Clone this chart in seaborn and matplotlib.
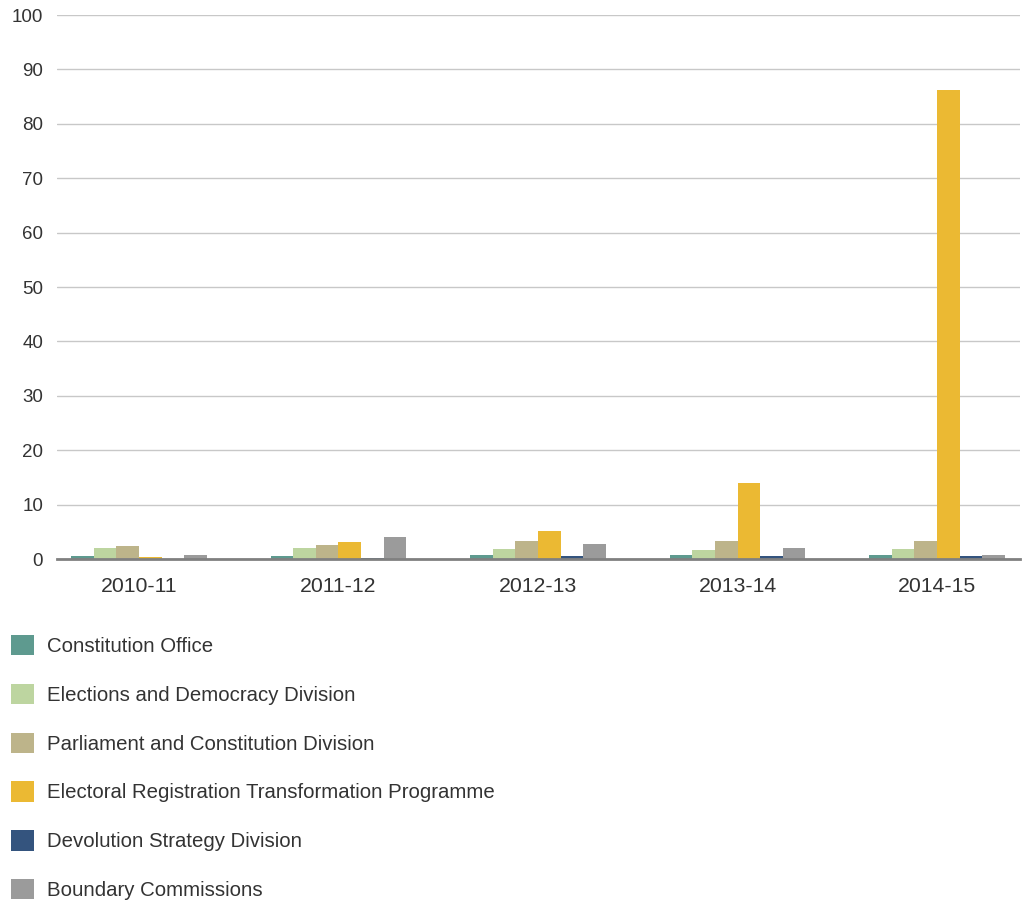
import matplotlib
matplotlib.use("Agg")
import matplotlib.pyplot as plt
import seaborn as sns
import pandas as pd
from matplotlib.ticker import FixedLocator, MultipleLocator

years = ["2010-11", "2011-12", "2012-13", "2013-14", "2014-15"]
series = [
    "Constitution Office",
    "Elections and Democracy Division",
    "Parliament and Constitution Division",
    "Electoral Registration Transformation Programme",
    "Devolution Strategy Division",
    "Boundary Commissions",
]
constitution_office = [0.5, 0.5, 0.7, 0.7, 0.7]
elections_democracy = [2.1, 2.0, 1.8, 1.6, 1.8]
parliament_constitution = [2.3, 2.5, 3.4, 3.3, 3.3]
electoral_registration = [0.3, 3.1, 5.1, 13.9, 86.2]
devolution_strategy = [0.05, 0.1, 0.5, 0.5, 0.5]
boundary_commissions = [0.7, 4.0, 2.7, 2.1, 0.7]
colors = ["#5e9a8f", "#bdd5a0", "#bdb48a", "#ebb933", "#34547e", "#9b9b9b"]

values = [constitution_office, elections_democracy, parliament_constitution,
          electoral_registration, devolution_strategy, boundary_commissions]
rows = []
for s, vals in zip(series, values):
    for y, v in zip(years, vals):
        rows.append({"year": y, "series": s, "value": v})
df = pd.DataFrame(rows)

sns.set_theme(style="white")
plt.rcParams["font.family"] = ["Liberation Sans", "DejaVu Sans"]
txt = "#333333"

fig = plt.figure(figsize=(10.24, 9.01), dpi=100)
ax = fig.add_axes([57/1024, 1-559/901, (1020-57)/1024, (559-15)/901])

sns.barplot(data=df, x="year", y="value", hue="series", hue_order=series,
            order=years, palette=colors, width=0.68, gap=0, ax=ax,
            saturation=1, legend=True, linewidth=0, edgecolor="none")

ax.set_xlim(-0.411, 4.416)
ax.set_ylim(0, 100)
ax.yaxis.set_major_locator(MultipleLocator(10))
ax.grid(axis="y", color="#c8c8c8", linewidth=1)
ax.set_axisbelow(True)
for s in ["left", "right", "top"]:
    ax.spines[s].set_visible(False)
ax.spines["bottom"].set_color("#808080")
ax.spines["bottom"].set_linewidth(2)
ax.spines["bottom"].set_zorder(5)
ax.set_xlabel("")
ax.set_ylabel("")
ax.tick_params(axis="y", length=0, pad=10, labelsize=13.5, labelcolor=txt)
ax.tick_params(axis="x", which="major", length=0, pad=13, labelsize=15.3, labelcolor=txt)
ax.xaxis.set_minor_locator(FixedLocator([-0.411, 0.5, 1.5, 2.5, 3.5, 4.416]))
ax.tick_params(axis="x", which="minor", length=9, width=1.5, color="#444444", direction="out")

handles, labels = ax.get_legend_handles_labels()
ax.get_legend().remove()
fig.legend(handles, labels, loc="upper left", bbox_to_anchor=(11/1024, 1-635/901),
           frameon=False, fontsize=14.7, handlelength=1.15, handleheight=1.15,
           labelspacing=1.36, handletextpad=0.6, borderpad=0, borderaxespad=0,
           labelcolor=txt)

fig.savefig("out.png", dpi=100)
